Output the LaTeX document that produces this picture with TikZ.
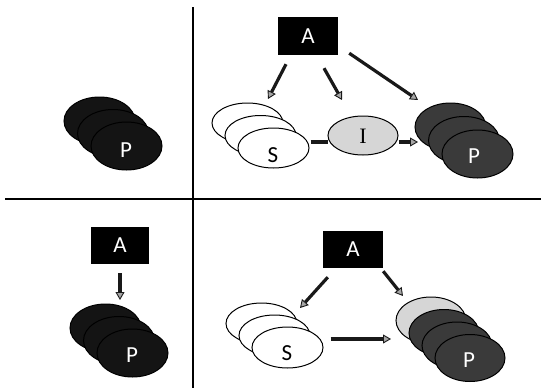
\documentclass[tikz,border=0pt]{standalone}
\usepackage{fontspec}
\setmainfont{Carlito}
\newfontfamily\serifI{Liberation Serif}
\usetikzlibrary{shapes.geometric,arrows.meta,calc}
\definecolor{inkdark}{HTML}{141414}
\definecolor{popgray}{HTML}{3A3A3A}
\definecolor{lightfill}{HTML}{D6D6D6}
\tikzset{
  x=1pt, y=-1pt,
  divider/.style={line width=1.8pt, draw=black},
  actor/.style={rectangle, fill=black, text=white, minimum width=60pt, minimum height=38pt,
    inner sep=0pt, font=\fontsize{23}{23}\selectfont},
  disc/.style={ellipse, draw=black, line width=1pt, minimum width=71pt, minimum height=48pt, inner sep=0pt},
  darkdisc/.style={disc, fill=inkdark},
  graydisc/.style={disc, fill=popgray},
  whitedisc/.style={disc, fill=white, minimum height=40pt},
  lightdisc/.style={disc, fill=lightfill},
  lbl/.style={inner sep=0pt, font=\fontsize{23}{23}\selectfont},
  wlbl/.style={lbl, text=white},
  arr/.style={line width=3.2pt, draw=black!90,
    -{Triangle[length=8pt, width=9pt, fill=black!35, line width=0.9pt]}},
  plain/.style={line width=3.2pt, draw=black!90},
}
\begin{document}
\begin{tikzpicture}
\useasboundingbox (0,0) rectangle (541,388);

% quadrant dividers
\coordinate (vtop) at (193,7);
\coordinate (vbot) at (193,388);
\coordinate (hleft) at (5,199);
\coordinate (hright) at (541,199);
\draw[divider] (vtop) -- (vbot);
\draw[divider] (hleft) -- (hright);

% ---- top left: population only
\node[darkdisc] (tlp1) at (99.5,121) {};
\node[darkdisc] (tlp2) at (113,133.5) {};
\node[darkdisc] (tlp3) at (126.5,146) {};
\node[wlbl] (tlpl) at (126,150) {P};

% ---- top right: A acts on S, I and P
\node[actor] (tra) at (308,36) {A};
\node[whitedisc] (trs1) at (247.5,123) {};
\node[whitedisc] (trs2) at (260.5,135.5) {};
\node[whitedisc] (trs3) at (273.5,148) {};
\node[lbl] (trsl) at (273,155) {S};
\node[disc, fill=lightfill, minimum width=70pt, minimum height=39pt] (tri) at (363,135.5) {};
\node[lbl, font=\serifI\fontsize{22}{22}\selectfont] (tril) at (363,136) {I};
\node[graydisc] (trp1) at (450.5,127) {};
\node[graydisc] (trp2) at (464,140.5) {};
\node[graydisc] (trp3) at (477.5,154) {};
\node[wlbl] (trpl) at (474,156) {P};

\coordinate (tr1e) at (268,99);
\coordinate (tr2e) at (342,100);
\coordinate (tr3e) at (418,100);
\coordinate (tr4e) at (418,142);
\draw[arr] ($(tra.south)+(-22,9)$) -- (tr1e);
\draw[arr] ($(tra.south)+(16,13)$) -- (tr2e);
\draw[arr] ($(tra.south east)+(11,-2)$) -- (tr3e);
\draw[plain] ($(trs3.east)+(1,-6)$) -- ($(tri.west)+(0,6.5)$);
\draw[arr] ($(tri.east)+(0,6.5)$) -- (tr4e);

% ---- bottom left: A acts on P
\node[actor, minimum width=58pt, minimum height=37pt] (bla) at (120,245.5) {A};
\node[darkdisc] (blp1) at (105.5,328) {};
\node[darkdisc] (blp2) at (119,340.5) {};
\node[darkdisc] (blp3) at (132.5,353) {};
\node[wlbl] (blpl) at (132,355) {P};
\coordinate (bl1e) at (120,300);
\draw[arr] ($(bla.south)+(0,9)$) -- (bl1e);

% ---- bottom right: A acts on S and P, S leads to P
\node[actor, minimum height=37pt] (bra) at (353,249.5) {A};
\node[whitedisc, minimum height=41pt] (brs1) at (261.5,323.5) {};
\node[whitedisc, minimum height=41pt] (brs2) at (274.5,335.5) {};
\node[whitedisc, minimum height=41pt] (brs3) at (287.5,347.5) {};
\node[lbl] (brsl) at (287,353) {S};
\node[lightdisc, minimum width=70pt, minimum height=47pt] (brp1) at (431,320.5) {};
\node[graydisc, minimum width=70pt, minimum height=47pt] (brp2) at (444,333) {};
\node[graydisc, minimum width=70pt, minimum height=47pt] (brp3) at (457,345.5) {};
\node[graydisc, minimum width=70pt, minimum height=47pt] (brp4) at (470,358) {};
\node[wlbl] (brpl) at (469,360) {P};

\coordinate (br1e) at (300,308);
\coordinate (br2e) at (403,296);
\coordinate (br3e) at (391,339);
\draw[arr] ($(bra.south west)+(5,9)$) -- (br1e);
\draw[arr] ($(bra.south east)+(0,3)$) -- (br2e);
\draw[arr] ($(brs3.east)+(7,-8.5)$) -- (br3e);
\end{tikzpicture}
\end{document}
